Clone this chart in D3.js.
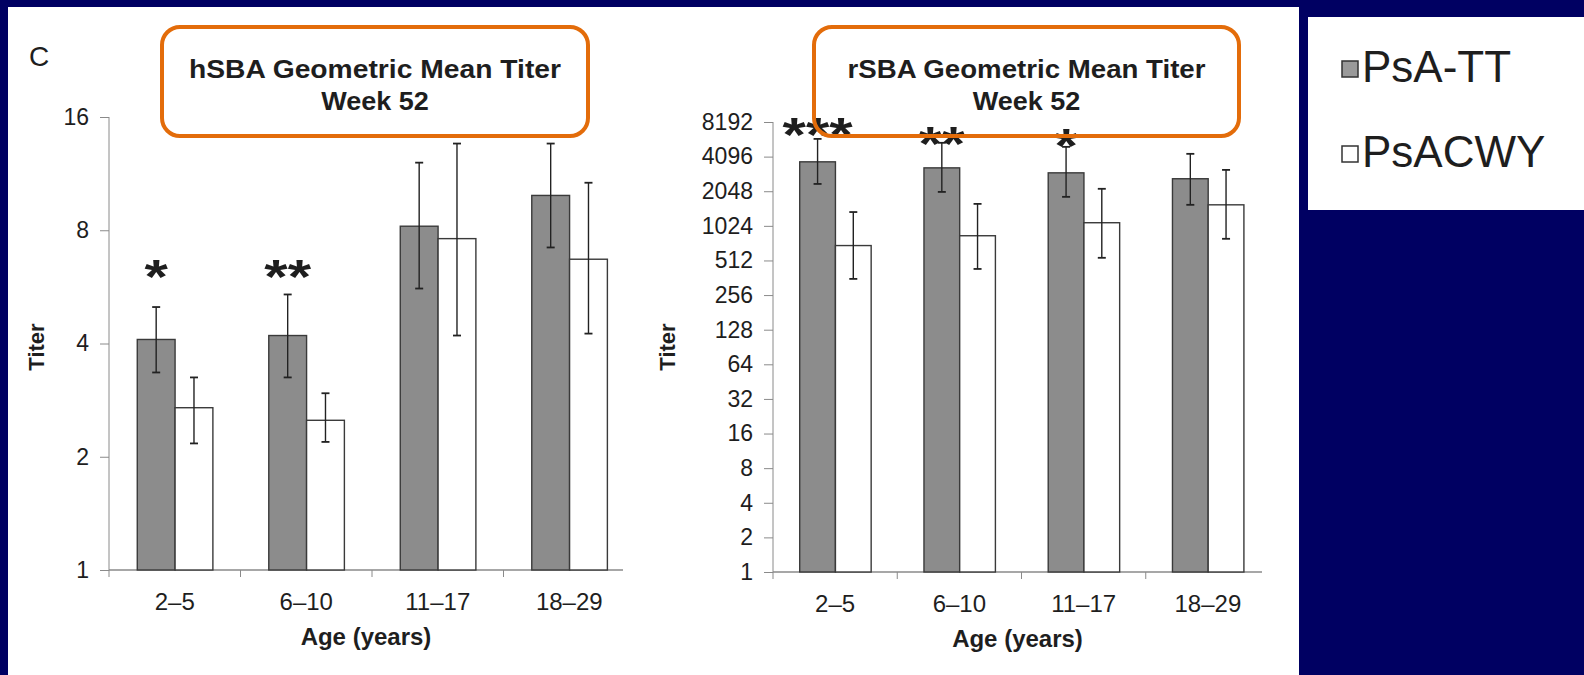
<!DOCTYPE html>
<html>
<head>
<meta charset="utf-8">
<script src="https://cdn.jsdelivr.net/npm/d3@7"></script>
<style>
  html, body { margin: 0; padding: 0; background: #000062; }
  svg { display: block; }
  text { font-family: "Liberation Sans", Arial, sans-serif; fill: #1e1e1e; }
</style>
</head>
<body>
<svg id="fig" width="1584" height="675"></svg>
<script>
// Age groups and series
const categories = ["2–5", "6–10", "11–17", "18–29"];
const seriesNames = ["PsA-TT", "PsACWY"];

// hSBA geometric mean titers, week 52, with 95% CI
const hsbaPsATT     = [4.1, 4.2, 8.2, 9.9];
const hsbaPsATTLow  = [3.35, 3.25, 5.6, 7.2];
const hsbaPsATTHigh = [5.0, 5.4, 12.1, 13.6];
const hsbaPsACWY     = [2.7, 2.5, 7.6, 6.7];
const hsbaPsACWYLow  = [2.17, 2.19, 4.2, 4.25];
const hsbaPsACWYHigh = [3.25, 2.95, 13.6, 10.7];
const hsbaSignif = ["*", "**", "", ""];

// rSBA geometric mean titers, week 52, with 95% CI
const rsbaPsATT     = [3690, 3270, 2960, 2630];
const rsbaPsATTLow  = [2370, 2020, 1830, 1560];
const rsbaPsATTHigh = [5840, 5400, 4980, 4330];
const rsbaPsACWY     = [690, 840, 1090, 1560];
const rsbaPsACWYLow  = [354, 432, 540, 790];
const rsbaPsACWYHigh = [1350, 1590, 2150, 3140];
const rsbaSignif = ["***", "**", "*", ""];

// Tick labels
const hsbaTicks = [1, 2, 4, 8, 16];
const rsbaTicks = [1, 2, 4, 8, 16, 32, 64, 128, 256, 512, 1024, 2048, 4096, 8192];

const svg = d3.select("#fig");
const fillColors = ["#8c8c8c", "#ffffff"];

// Rescale the glyph run of a text selection horizontally
function stretch(sel, factor) {
  sel.each(function () {
    const w = this.getComputedTextLength();
    if (w > 0) d3.select(this).attr("textLength", w * factor).attr("lengthAdjust", "spacingAndGlyphs");
  });
}

// White figure panel and legend panel on the navy slide
svg.append("rect").attr("x", 8).attr("y", 7).attr("width", 1291).attr("height", 668).attr("fill", "#ffffff");
svg.append("rect").attr("x", 1308).attr("y", 17).attr("width", 276).attr("height", 193).attr("fill", "#ffffff");

// Panel letter
svg.append("text").attr("x", 29).attr("y", 66)
  .style("font-size", "28px").text("C");

function drawPanel(cfg) {
  const x = d3.scaleBand().domain(categories).range(cfg.xRange);
  const inner = d3.scaleBand().domain(seriesNames)
    .range([x.bandwidth() * 0.215, x.bandwidth() * 0.79]);
  const y = d3.scaleLog().base(2).domain(cfg.domain).range(cfg.yRange);
  const g = svg.append("g");

  // y axis
  const yAxis = d3.axisLeft(y).tickValues(cfg.ticks).tickFormat(d3.format("d"))
    .tickSize(9).tickPadding(11);
  const ya = g.append("g").attr("transform", `translate(${cfg.xRange[0]},0)`).call(yAxis);
  ya.select(".domain").attr("stroke", "#8a8a8a").attr("d", `M-0,${cfg.yRange[1]}V${cfg.yRange[0]}`);
  ya.selectAll(".tick line").attr("stroke", "#8a8a8a");
  ya.selectAll(".tick text").attr("fill", "#222")
    .style("font-family", "'Liberation Sans',Arial,sans-serif")
    .style("font-size", "23px");

  // x axis baseline with separators between groups
  const base = y(cfg.domain[0]);
  g.append("line").attr("x1", cfg.xRange[0]).attr("x2", cfg.xEnd)
    .attr("y1", base).attr("y2", base).attr("stroke", "#8a8a8a").attr("stroke-width", 1.3);
  g.selectAll(".xsep").data(categories).join("line")
    .attr("x1", d => x(d)).attr("x2", d => x(d))
    .attr("y1", base).attr("y2", base + 7).attr("stroke", "#8a8a8a");
  g.selectAll(".xlab").data(categories).join("text")
    .attr("x", d => x(d) + x.bandwidth() / 2).attr("y", base + 40)
    .attr("text-anchor", "middle").style("font-size", "24px").text(d => d);

  // bars and error bars
  const rows = [];
  categories.forEach((c, i) => {
    cfg.series.forEach((s, j) => {
      rows.push({ c, name: seriesNames[j], v: s.v[i], lo: s.lo[i], hi: s.hi[i], j });
    });
  });
  g.selectAll(".bar").data(rows).join("rect")
    .attr("x", d => x(d.c) + inner(d.name))
    .attr("width", inner.bandwidth())
    .attr("y", d => y(d.v))
    .attr("height", d => base - y(d.v))
    .attr("fill", d => fillColors[d.j])
    .attr("stroke", "#3a3a3a").attr("stroke-width", 1.4);

  const cx = d => x(d.c) + inner(d.name) + inner.bandwidth() / 2;
  g.selectAll(".err").data(rows).join("line")
    .attr("x1", cx).attr("x2", cx)
    .attr("y1", d => y(d.lo)).attr("y2", d => y(d.hi))
    .attr("stroke", "#222").attr("stroke-width", 1.4);
  ["lo", "hi"].forEach(k => {
    g.selectAll(".cap" + k).data(rows).join("line")
      .attr("x1", d => cx(d) - 4).attr("x2", d => cx(d) + 4)
      .attr("y1", d => y(d[k])).attr("y2", d => y(d[k]))
      .attr("stroke", "#222").attr("stroke-width", 1.8);
  });

  // significance markers above the PsA-TT bars
  const sig = g.selectAll(".sig").data(categories).join("text")
    .attr("x", c => x(c) + inner(seriesNames[0]) + inner.bandwidth() / 2)
    .attr("y", (c, i) => cfg.sigY(i) + cfg.sigFont * 0.6)
    .attr("text-anchor", "middle")
    .style("font-weight", "bold")
    .style("font-size", cfg.sigFont + "px")
    .attr("fill", "#111")
    .text((c, i) => cfg.signif[i]);
  stretch(sig, 1.25);

  // axis titles
  g.append("text").attr("x", (cfg.xRange[0] + cfg.xEnd) / 2).attr("y", base + 75)
    .attr("text-anchor", "middle").style("font-weight", "bold")
    .style("font-size", "24px").text("Age (years)");
  g.append("text").attr("transform", `translate(${cfg.titerX},347) rotate(-90)`)
    .attr("text-anchor", "middle").style("font-weight", "bold")
    .style("font-size", "22px").text("Titer");

  // title box
  const b = cfg.box;
  g.append("rect").attr("x", b[0]).attr("y", b[1]).attr("width", b[2]).attr("height", b[3])
    .attr("rx", 18).attr("ry", 18).attr("fill", "none")
    .attr("stroke", "#e36c0a").attr("stroke-width", 4);
  const tx = b[0] + b[2] / 2;
  g.append("text").attr("x", tx).attr("y", 78).attr("text-anchor", "middle")
    .style("font-weight", "bold").style("font-size", "25px")
    .attr("textLength", cfg.titleLen).attr("lengthAdjust", "spacingAndGlyphs")
    .text(cfg.title);
  const wk = g.append("text").attr("x", tx).attr("y", 110).attr("text-anchor", "middle")
    .style("font-weight", "bold").style("font-size", "25px").text("Week 52");
  stretch(wk, 1.08);
}

// hSBA panel
drawPanel({
  xRange: [109, 635], xEnd: 623,
  domain: [1, 16], yRange: [570, 117], ticks: hsbaTicks,
  series: [
    { v: hsbaPsATT, lo: hsbaPsATTLow, hi: hsbaPsATTHigh },
    { v: hsbaPsACWY, lo: hsbaPsACWYLow, hi: hsbaPsACWYHigh }
  ],
  signif: hsbaSignif,
  sigY: () => 264, sigFont: 48,
  titerX: 44,
  box: [162, 27, 426, 109], title: "hSBA Geometric Mean Titer", titleLen: 372
});

// rSBA panel
drawPanel({
  xRange: [773, 1270], xEnd: 1262,
  domain: [1, 8192], yRange: [572, 122], ticks: rsbaTicks,
  series: [
    { v: rsbaPsATT, lo: rsbaPsATTLow, hi: rsbaPsATTHigh },
    { v: rsbaPsACWY, lo: rsbaPsACWYLow, hi: rsbaPsACWYHigh }
  ],
  signif: rsbaSignif,
  sigY: i => [122, 131, 133, 0][i], sigFont: 48,
  titerX: 675,
  box: [814, 27, 425, 109], title: "rSBA Geometric Mean Titer", titleLen: 358
});

// Legend
const leg = svg.append("g").selectAll("g").data(seriesNames).join("g")
  .attr("transform", (d, i) => `translate(1342,${61 + i * 85})`);
leg.append("rect").attr("width", 16).attr("height", 16)
  .attr("fill", (d, i) => i === 0 ? "#9a9a9a" : "#ffffff")
  .attr("stroke", "#333").attr("stroke-width", 1.5);
leg.append("text").attr("x", 20).attr("y", 21)
  .style("font-size", "44px").text(d => d);
</script>
</body>
</html>
